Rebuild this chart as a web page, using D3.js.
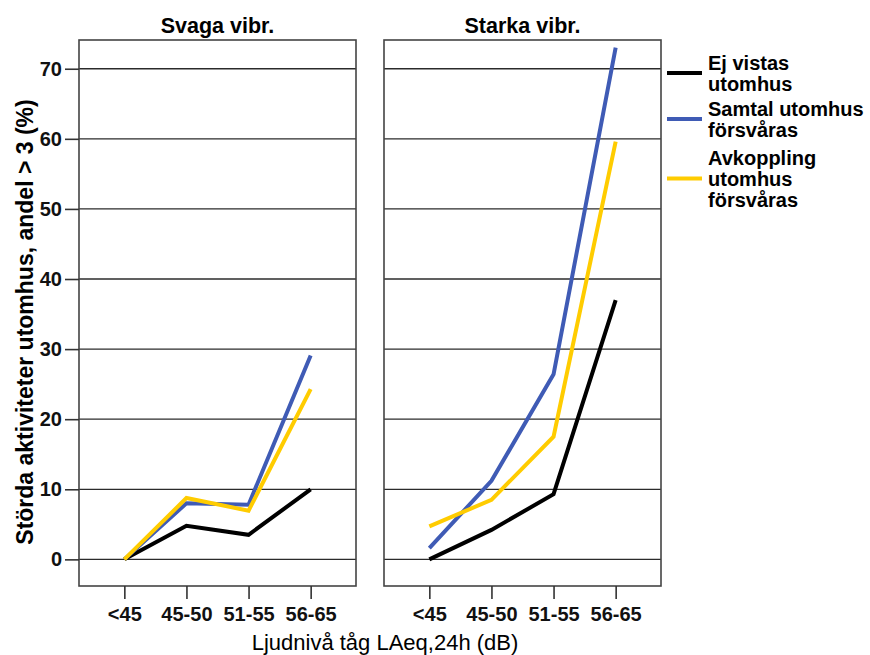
<!DOCTYPE html>
<html>
<head>
<meta charset="utf-8">
<script src="https://cdn.jsdelivr.net/npm/d3@7"></script>
<style>
  html, body { margin: 0; padding: 0; background: #fff; }
  svg { display: block; }
</style>
</head>
<body>
<svg id="chart" width="870" height="655"></svg>
<script>
// Noise categories on the x axis
const categories = ["<45", "45-50", "51-55", "56-65"];
const panels = ["Svaga vibr.", "Starka vibr."];
const yTicks = [0, 10, 20, 30, 40, 50, 60, 70];

// Share disturbed (%) per panel, per category
const ejVistasSvaga     = [0, 4.8, 3.5, 10.0];
const samtalSvaga       = [0, 8.0, 7.8, 29.1];
const avkopplingSvaga   = [0, 8.75, 6.95, 24.3];
const ejVistasStarka    = [0, 4.2, 9.3, 37.0];
const samtalStarka      = [1.6, 11.2, 26.4, 73.0];
const avkopplingStarka  = [4.7, 8.5, 17.5, 59.6];

const seriesNames  = [["Ej vistas", "utomhus"], ["Samtal utomhus", "försvåras"], ["Avkoppling", "utomhus", "försvåras"]];
const seriesColors = ["#000000", "#3F5BB5", "#FFCC00"];

const panelData = [
  [ejVistasSvaga, samtalSvaga, avkopplingSvaga],
  [ejVistasStarka, samtalStarka, avkopplingStarka]
];

const FONT = "Liberation Sans, Arial, sans-serif";
const svg = d3.select("#chart");
const plotTop = 40, plotBottom = 586;
const panelX = [[79, 356], [384, 661]];

const y = d3.scaleLinear().domain([-3.8, 74.1]).range([plotBottom, plotTop]);

panelData.forEach((series, i) => {
  const [x0, x1] = panelX[i];
  const x = d3.scalePoint().domain(categories).range([x0, x1]).padding(0.73);
  const g = svg.append("g");

  // grid lines
  g.selectAll("line.grid").data(yTicks).join("line")
    .attr("class", "grid")
    .attr("x1", x0).attr("x2", x1)
    .attr("y1", d => y(d)).attr("y2", d => y(d))
    .attr("stroke", "#2b2b2b").attr("stroke-width", 1.3);

  // panel frame
  g.append("rect")
    .attr("x", x0).attr("y", plotTop)
    .attr("width", x1 - x0).attr("height", plotBottom - plotTop)
    .attr("fill", "none").attr("stroke", "#444").attr("stroke-width", 1.6);

  // panel title
  g.append("text")
    .attr("x", (x0 + x1) / 2).attr("y", 33)
    .attr("text-anchor", "middle")
    .attr("font-family", FONT)
    .attr("font-weight", "bold").attr("font-size", 21.5)
    .text(panels[i]);

  // x axis
  const xAxis = g.append("g").attr("transform", `translate(0,${plotBottom})`)
    .call(d3.axisBottom(x).tickSize(13).tickSizeOuter(0).tickPadding(8));
  xAxis.select(".domain").remove();
  xAxis.selectAll(".tick line").attr("stroke", "#333").attr("stroke-width", 1.6);
  xAxis.selectAll(".tick text")
    .attr("font-family", FONT)
    .attr("font-weight", "bold").attr("font-size", 20).attr("fill", "#111");

  // y axis only on the first panel
  if (i === 0) {
    const yAxis = g.append("g").attr("transform", `translate(${x0},0)`)
      .call(d3.axisLeft(y).tickValues(yTicks).tickSize(14).tickPadding(3));
    yAxis.select(".domain").remove();
    yAxis.selectAll(".tick line").attr("stroke", "#333").attr("stroke-width", 1.6);
    yAxis.selectAll(".tick text")
      .attr("font-family", FONT)
      .attr("font-weight", "bold").attr("font-size", 20).attr("fill", "#111");
  }

  // series lines
  const line = d3.line().x((d, k) => x(categories[k])).y(d => y(d));
  series.forEach((vals, s) => {
    g.append("path")
      .datum(vals)
      .attr("d", line)
      .attr("fill", "none")
      .attr("stroke", seriesColors[s])
      .attr("stroke-width", 4)
      .attr("stroke-linejoin", "miter");
  });
});

// y axis title
svg.append("text")
  .attr("transform", "translate(33,322) rotate(-90)")
  .attr("text-anchor", "middle")
  .attr("font-family", FONT)
  .attr("font-weight", "bold").attr("font-size", 23)
  .text("Störda aktiviteter utomhus, andel > 3 (%)");

// x axis title
svg.append("text")
  .attr("x", 385).attr("y", 650)
  .attr("text-anchor", "middle")
  .attr("font-family", FONT)
  .attr("font-size", 22)
  .text("Ljudnivå tåg LAeq,24h (dB)");

// legend
const legendTop = [70, 116, 165];
const lineGap = 21;
const legend = svg.append("g");
seriesNames.forEach((lines, s) => {
  const base = legendTop[s];
  const midY = base + (lines.length - 1) * lineGap / 2 - 7.5;
  legend.append("line")
    .attr("x1", 667).attr("x2", 702)
    .attr("y1", midY).attr("y2", midY)
    .attr("stroke", seriesColors[s]).attr("stroke-width", 4);
  const t = legend.append("text")
    .attr("font-family", FONT)
    .attr("font-weight", "bold").attr("font-size", 20);
  lines.forEach((ln, k) => {
    t.append("tspan").attr("x", 708).attr("y", base + k * lineGap).text(ln);
  });
});
</script>
</body>
</html>
